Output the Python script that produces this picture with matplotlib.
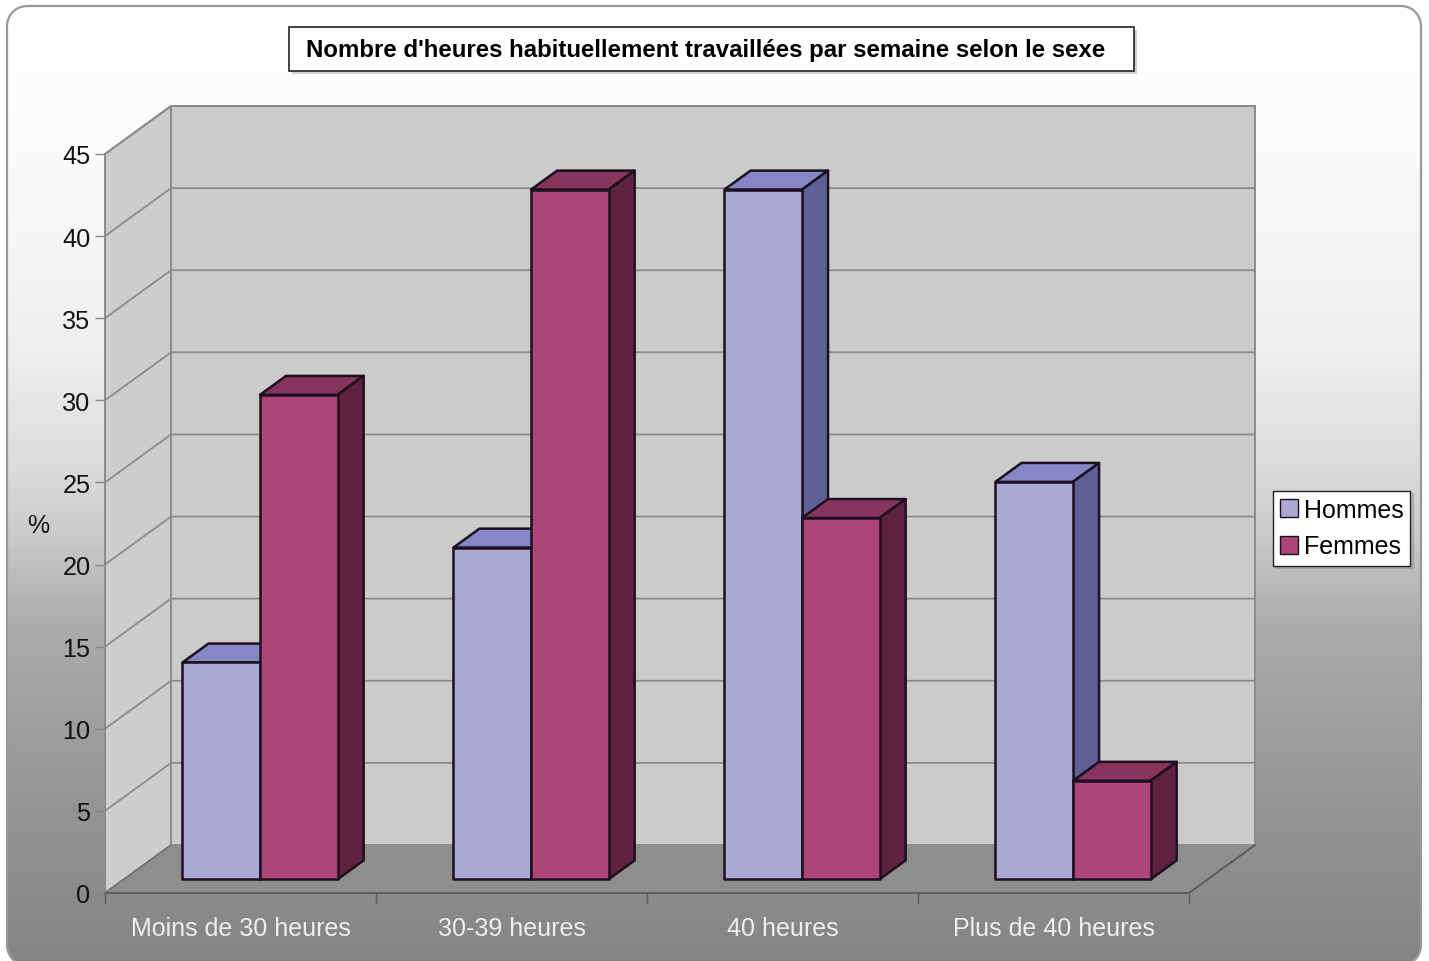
import numpy as np
import matplotlib
matplotlib.use('Agg')
import matplotlib.pyplot as plt
from matplotlib.patches import FancyBboxPatch, Rectangle, Polygon, Patch

plt.rcParams['font.family'] = ['Liberation Sans', 'DejaVu Sans']

categories = ['Moins de 30 heures', '30-39 heures', '40 heures', 'Plus de 40 heures']
hommes = [13.2, 20.2, 42.0, 24.2]
femmes = [29.5, 42.0, 22.0, 6.0]
yticks = [0, 5, 10, 15, 20, 25, 30, 35, 40, 45]
title = "Nombre d'heures habituellement travaillées par semaine selon le sexe"

W, H = 1429, 962

# oblique depth of the fake 3D box, in data units
DX = 66 / 271
DY = 48 / 16.42
bar_w = 77.6 / 271
d_front, d_back = 0.286, 0.68

col_h = {'front': '#aba9d3', 'top': '#8688c6', 'side': '#5f6096'}
col_f = {'front': '#ad4577', 'top': '#87345f', 'side': '#5f2241'}
edge = '#1c1020'


def pt(x, y, d):
    return (x + d * DX, y + d * DY)


fig = plt.figure(figsize=(W / 100, H / 100), dpi=100, facecolor='white')

#%% background panel
bg = fig.add_axes([0, 0, 1, 1])
bg.set_xlim(0, W)
bg.set_ylim(H, 0)
bg.axis('off')
ys = np.arange(H)
grey = np.interp(ys, [0, 150, 350, 470, 540, 620, 750, 900, 962],
                 [254, 250, 238, 218, 200, 172, 155, 138, 132]) / 255
im = bg.imshow(grey[:, None], cmap='gray', vmin=0, vmax=1, extent=[0, W, H, 0], aspect='auto')
panel = FancyBboxPatch((7, 7), 1414, 959, boxstyle='round,pad=0,rounding_size=20',
                       facecolor='none', edgecolor='none')
bg.add_patch(panel)
im.set_clip_path(panel)

# panel outline, open at the bottom where the panel runs off the picture
r = 20
left, right, top, bottom = 7, 1421, 7, 966
a_end = np.arcsin((962 - (bottom - r)) / r)
arc_bl = np.linspace(a_end, 0, 12)
arc_tl = np.linspace(0, np.pi / 2, 12)
arc_tr = np.linspace(np.pi / 2, 0, 12)
arc_br = np.linspace(0, a_end, 12)
out_x = np.concatenate([left + r - r * np.cos(arc_bl), left + r - r * np.sin(np.pi / 2 - arc_tl),
                        right - r + r * np.cos(arc_tr), right - r + r * np.cos(arc_br)])
out_y = np.concatenate([bottom - r + r * np.sin(arc_bl), top + r - r * np.sin(arc_tl),
                        top + r - r * np.sin(arc_tr), bottom - r + r * np.sin(arc_br)])
bg.plot(out_x, out_y, color='#9c9898', lw=1.6)
bg.set_xlim(0, W)
bg.set_ylim(H, 0)

# title box
bg.add_patch(Rectangle((292, 31), 845, 44, fc='#8a8a8a', ec='none', alpha=0.4))
bg.add_patch(Rectangle((289, 27.5), 845, 44.5, fc='white', ec='#222222', lw=1.2))
bg.text(706, 50.5, title, ha='center', va='center', fontsize=17.3, fontweight='bold', color='black')

#%% chart
ax = fig.add_axes([105 / W, (H - 894) / H, 1084 / W, 739 / H])
ax.patch.set_visible(False)
ax.set_xlim(0, 4)
ax.set_ylim(0, 45)
for s in ax.spines.values():
    s.set_visible(False)

wall_line = '#8f8a8a'
ax.add_patch(Polygon([pt(0, 0, 1), pt(4, 0, 1), pt(4, 45, 1), pt(0, 45, 1)], closed=True,
                     fc='#cbcbcb', ec=wall_line, lw=1.4, clip_on=False, zorder=1))
ax.add_patch(Polygon([pt(0, 0, 0), pt(0, 0, 1), pt(0, 45, 1), pt(0, 45, 0)], closed=True,
                     fc='#cdcdcd', ec=wall_line, lw=1.4, clip_on=False, zorder=1))
ax.add_patch(Polygon([pt(0, 0, 0), pt(4, 0, 0), pt(4, 0, 1), pt(0, 0, 1)], closed=True,
                     fc='#8e8e8e', ec='none', clip_on=False, zorder=1))

for v in yticks[1:]:
    p0, p1, p2 = pt(0, v, 0), pt(0, v, 1), pt(4, v, 1)
    ax.plot([p0[0], p1[0], p2[0]], [p0[1], p1[1], p2[1]], color=wall_line, lw=1.3,
            clip_on=False, zorder=2)

# floor edges
p0, p1, p2 = pt(0, 0, 0), pt(4, 0, 0), pt(4, 0, 1)
ax.plot([p0[0], p1[0], p2[0]], [p0[1], p1[1], p2[1]], color='#5a5a5a', lw=1.3, clip_on=False, zorder=2)
p3 = pt(0, 0, 1)
ax.plot([p0[0], p3[0]], [p0[1], p3[1]], color='#6e6e6e', lw=1.0, clip_on=False, zorder=2)


def draw_bar(x, val, cols, z):
    y0 = 0
    top = [pt(x, val, d_front), pt(x + bar_w, val, d_front), pt(x + bar_w, val, d_back), pt(x, val, d_back)]
    side = [pt(x + bar_w, y0, d_front), pt(x + bar_w, y0, d_back), pt(x + bar_w, val, d_back), pt(x + bar_w, val, d_front)]
    front = [pt(x, y0, d_front), pt(x + bar_w, y0, d_front), pt(x + bar_w, val, d_front), pt(x, val, d_front)]
    for poly, c in [(top, cols['top']), (side, cols['side']), (front, cols['front'])]:
        ax.add_patch(Polygon(poly, closed=True, fc=c, ec=edge, lw=1.8, joinstyle='round',
                             clip_on=False, zorder=z))


for i in range(len(categories)):
    x0 = i + 0.5 - bar_w + 0.0025
    draw_bar(x0, hommes[i], col_h, 3 + i * 2)
    draw_bar(x0 + bar_w, femmes[i], col_f, 4 + i * 2)

ax.set_yticks(yticks)
ax.tick_params(axis='y', length=7.5, width=1.0, color='#8a8585', pad=3, labelsize=18.2, labelcolor='#111111')
ax.set_xticks(range(5))
ax.set_xticklabels([])
ax.tick_params(axis='x', which='major', length=7.5, width=1.0, color='#5a5a5a')
ax.set_xticks(np.arange(len(categories)) + 0.5, minor=True)
ax.set_xticklabels(categories, minor=True, fontsize=18, color='#eeeeee')
ax.tick_params(axis='x', which='minor', length=0, pad=16.3)

ax.set_ylabel('%', rotation=0, fontsize=18, color='#111111', ha='center', va='center')
ax.yaxis.set_label_coords((38 - 105) / 1084, (894 - 526) / 739)

handles = [Patch(fc=col_h['front'], ec=edge, lw=1.0, label='Hommes'),
           Patch(fc=col_f['front'], ec=edge, lw=1.0, label='Femmes')]
leg = fig.legend(handles=handles, loc='center left', bbox_to_anchor=(1272.5 / W, (H - 529) / H),
                 fontsize=18, frameon=True, fancybox=False, framealpha=1, edgecolor='#222222',
                 facecolor='white', handlelength=0.72, handleheight=0.72, handletextpad=0.24,
                 labelspacing=0.52, borderpad=0.28, borderaxespad=0,
                 shadow={'color': '#777777', 'alpha': 0.3, 'ox': 2, 'oy': -2})
leg.get_frame().set_linewidth(1.0)

fig.savefig('out.png', dpi=100)
